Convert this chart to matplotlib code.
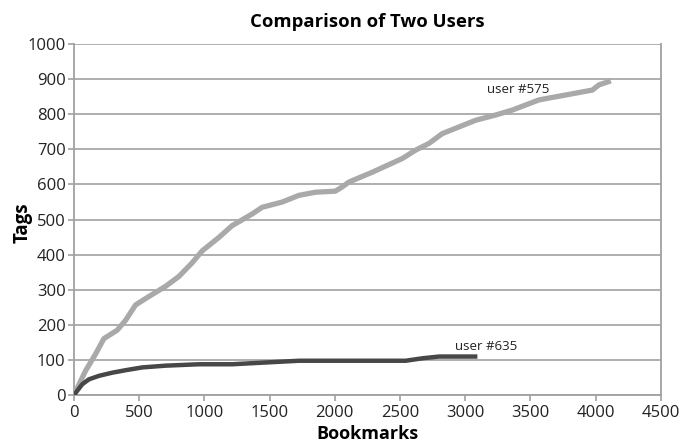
import matplotlib.pyplot as plt

plt.rcParams['font.family'] = ['Open Sans', 'DejaVu Sans']

# user #575 (light gray)
bookmarks_575 = [0, 89, 166, 230, 332, 396, 473, 575, 703, 805, 907, 984, 1111, 1214,
                 1316, 1367, 1443, 1597, 1725, 1852, 2005, 2057, 2109, 2288, 2518,
                 2621, 2723, 2825, 2953, 3081, 3235, 3362, 3567, 3772, 3976, 4027, 4117]
tags_575 = [0, 69, 117, 161, 185, 213, 257, 281, 310, 338, 377, 411, 449, 483,
            505, 516, 535, 550, 569, 578, 581, 593, 607, 635, 674,
            698, 717, 745, 764, 783, 798, 812, 841, 855, 869, 884, 895]

# user #635 (dark gray)
bookmarks_635 = [0, 64, 115, 192, 294, 396, 524, 703, 958, 1214, 1469, 1725, 2108,
                 2544, 2672, 2800, 3094]
tags_635 = [0, 31, 45, 55, 64, 71, 79, 84, 88, 88, 93, 98, 98,
            98, 105, 110, 110]

x_ticks = list(range(0, 4501, 500))
y_ticks = list(range(0, 1001, 100))

fig = plt.figure(figsize=(6.97, 4.45), dpi=100)
ax = fig.add_axes([0.106, 0.112, 0.842, 0.789])

ax.plot(bookmarks_575, tags_575, color='#a9a9a9', lw=3.8, solid_capstyle='butt', zorder=3)
ax.plot(bookmarks_635, tags_635, color='#474747', lw=3.2, solid_capstyle='butt', zorder=4)

ax.text(3410, 870, 'user #575', ha='center', va='center', fontsize=9.5, color='#222222')
ax.text(3160, 138, 'user #635', ha='center', va='center', fontsize=9.5, color='#222222')

ax.set_xlim(0, 4500)
ax.set_ylim(0, 1000)
ax.set_xticks(x_ticks)
ax.set_yticks(y_ticks)
ax.grid(axis='y', color='#a8a8a8', lw=1.3)
ax.set_axisbelow(True)

for side in ['left', 'bottom', 'right']:
    ax.spines[side].set_color('#a0a0a0')
    ax.spines[side].set_linewidth(1.3)
ax.spines['top'].set_visible(False)
ax.tick_params(axis='both', colors='#a0a0a0', labelcolor='#222222', labelsize=12,
               length=4, width=1.2)
ax.tick_params(axis='x', pad=3)
ax.tick_params(axis='y', pad=2)

ax.set_title('Comparison of Two Users', fontsize=13.3, fontweight='bold', pad=12)
ax.set_xlabel('Bookmarks', fontsize=13, fontweight='bold', labelpad=3)
ax.set_ylabel('Tags', fontsize=13.5, fontweight='bold')
ax.yaxis.set_label_coords(-0.07, 0.49)

fig.savefig('out.png', dpi=100)
